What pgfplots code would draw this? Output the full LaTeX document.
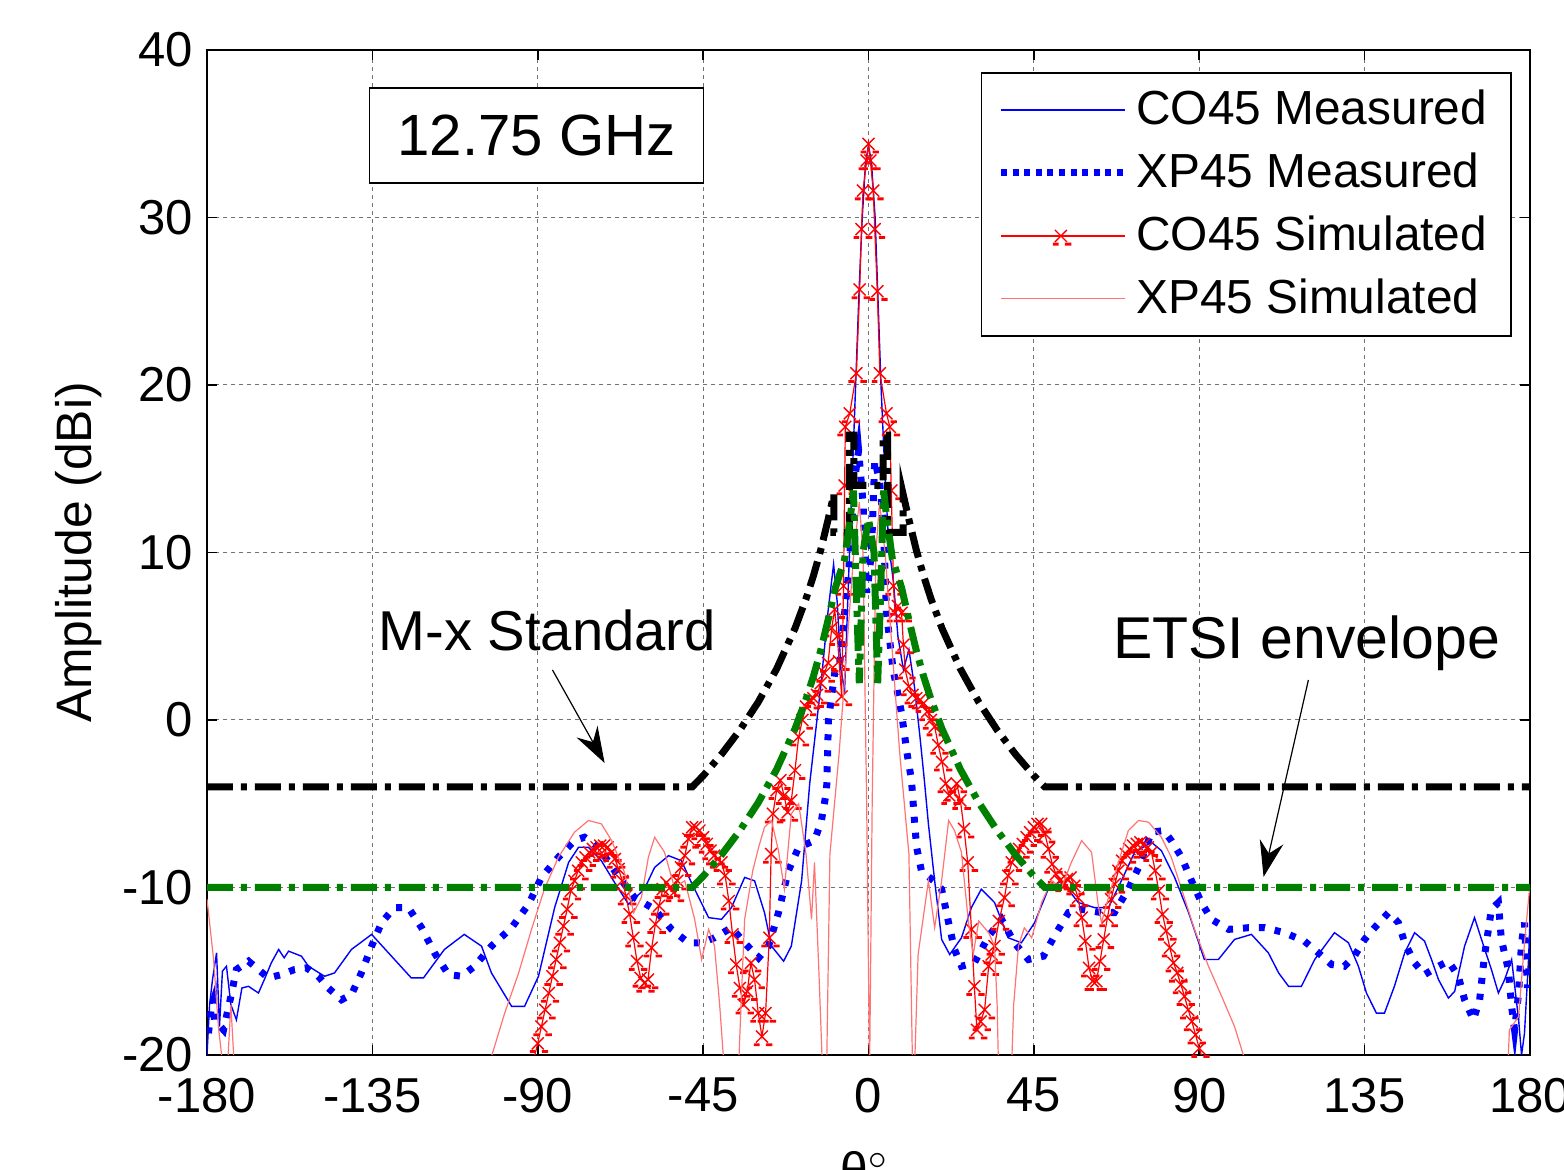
\documentclass[border=0pt]{standalone}
\usepackage{pgfplots}
\pgfplotsset{compat=1.18}
\usepackage{fontspec}
\setmainfont{Liberation Sans}
\usetikzlibrary{arrows.meta}
\pgfdeclareplotmark{xdash}{%
  \pgfpathmoveto{\pgfpoint{-\pgfplotmarksize}{-\pgfplotmarksize}}%
  \pgfpathlineto{\pgfpoint{\pgfplotmarksize}{\pgfplotmarksize}}%
  \pgfpathmoveto{\pgfpoint{-\pgfplotmarksize}{\pgfplotmarksize}}%
  \pgfpathlineto{\pgfpoint{\pgfplotmarksize}{-\pgfplotmarksize}}%
  \pgfusepathqstroke
  \pgfpathrectanglecorners{\pgfpoint{-2.0bp}{-2.4bp}}{\pgfpoint{-0.6bp}{-1.7bp}}%
  \pgfpathrectanglecorners{\pgfpoint{1.0bp}{-2.4bp}}{\pgfpoint{2.6bp}{-1.7bp}}%
  \pgfusepathqfill
}
\begin{document}
\begin{tikzpicture}
\begin{axis}[
  name=ax,
  scale only axis,
  width=330.75bp, height=251.25bp,
  xmin=-180, xmax=180, ymin=-20, ymax=40,
  xtick={-180,-135,-90,-45,0,45,90,135,180},
  ytick={-20,-10,0,10,20,30,40},
  /pgf/number format/assume math mode=true,
  tick label style={font=\fontsize{12.3}{14}\selectfont},
  xticklabel style={yshift=-2.2bp},
  tick align=inside,
  major tick length=2.5bp,
  tick style={black, line width=0.4bp},
  axis line style={black, line width=0.5bp},
  grid=major,
  grid style={black!55, line width=0.25bp, dash pattern=on 1bp off 1bp},
  ylabel={Amplitude (dBi)},
  ylabel style={at={(rel axis cs:-0.097,0.5)}, anchor=center, font=\fontsize{12.5}{14}\selectfont},
  clip mode=individual,
  legend style={at={(rel axis cs:0.9864,0.978)}, anchor=north east, draw=black, line width=0.4bp,
    inner xsep=4bp, inner ysep=2.2bp, row sep=1.6bp, font=\fontsize{12}{14}\selectfont,
    cells={anchor=west}},
]
% CO45 Measured
\addplot[blue, line width=0.35bp, mark=none,
  legend image code/.code={\draw[blue, line width=0.35bp] (0bp,0bp) -- (31bp,0bp);}] coordinates {
(-180,-20) (-179.3,-17) (-178.5,-15.5) (-177.4,-13.9) (-176.6,-18.3) (-175.8,-15) (-174.7,-14.7) (-173.5,-17)
(-172,-17.9) (-170.5,-16) (-168.7,-15.9) (-166,-16.3) (-164.4,-15.5) (-162.5,-14.5) (-160.5,-13.7) (-159,-14.2)
(-157.8,-13.8) (-154.3,-14.1) (-152.4,-14.7) (-148,-15.3) (-145.3,-15.1) (-140.7,-13.7) (-135.2,-12.8)
(-129.8,-14.1) (-124.4,-15.4) (-121.1,-15.4) (-115.4,-13.7) (-110,-12.8) (-105.3,-13.5) (-102.6,-15.1)
(-97.1,-17.1) (-93.6,-17.1) (-89.8,-15.3) (-85.4,-11.2) (-81.6,-8.5) (-78.9,-7.6) (-76.2,-7.6) (-72.7,-8.4)
(-69.1,-9.7) (-65.3,-11.0) (-61,-10.1) (-58.2,-8.8) (-54.4,-8.1) (-50.9,-8.4) (-48.2,-9.7) (-43.5,-11.8)
(-40,-11.9) (-37.3,-11.2) (-33.7,-9.4) (-31,-9.6) (-28.3,-11.5) (-26.4,-13.5) (-23.1,-14.4) (-21,-13.5)
(-18.2,-9.6) (-16,-3.8) (-13,2) (-11,6.5) (-9.5,9.3) (-8.5,7) (-7.5,3) (-6.5,1.8) (-5.5,8) (-4.5,14)
(-3.5,20) (-2.5,26) (-1.7,30) (-0.8,33.3) (0,34.3) (0.8,33.3) (1.8,30) (3.4,20) (4.5,14.5) (5.5,10.5)
(6.8,8.2) (8,5) (9.5,3) (11,4.2) (12.5,2) (14,-1) (15.2,-3.6) (16.3,-6.2) (18,-9.6) (19.9,-13.1) (22.1,-14.0)
(25.3,-13.0) (28,-11.2) (30.7,-10.1) (34.3,-10.9) (38,-13.0) (41.6,-13.3) (45.2,-12.1) (48.9,-10.1)
(52.5,-9.6) (57.1,-10.9) (61.5,-11.2) (65.3,-11.2) (68.8,-9.6) (72.4,-7.9) (77,-7.3) (79.7,-7.8) (83.3,-9.4)
(87.1,-11.5) (91.4,-14.3) (95.2,-14.3) (99.6,-13.1) (104.2,-12.8) (108.8,-13.9) (111.6,-15.1) (114.3,-15.9)
(117.8,-15.9) (121.4,-14.3) (126.8,-12.7) (130.6,-13.3) (133.3,-14.7) (135.5,-16.3) (138.2,-17.5)
(140.4,-17.5) (143.1,-15.9) (145.9,-13.9) (148.6,-12.7) (151.3,-13.2) (153.2,-14.3) (155.1,-15.5)
(157.8,-16.6) (159.5,-16.2) (162.2,-13.5) (164.9,-11.8) (166.8,-13.1) (169.5,-14.9) (171.4,-16.3)
(173.1,-15.5) (175,-14.3) (176.9,-17.9) (177.7,-20) (178.5,-18.7) (179.6,-14.3) (180,-12)
};
\addlegendentry{CO45 Measured}
% XP45 Measured
\addplot[blue, line width=1.75bp, dash pattern=on 1.5bp off 2.5bp, mark=none,
  legend image code/.code={\draw[blue, line width=1.75bp, dash pattern=on 1.5bp off 1.4bp] (0bp,0bp) -- (31bp,0bp);}] coordinates {
(-179.6,-18.7) (-178.8,-17.1) (-178.2,-16.7) (-178,-17.9) (-175.5,-18.5) (-173.3,-16.3) (-172,-14.9)
(-168.7,-14.4) (-166,-14.9) (-163.3,-15.4) (-159.7,-15.2) (-156.2,-14.9) (-152.9,-14.8) (-149.7,-15.3)
(-147,-16.0) (-143.4,-16.7) (-140.7,-16.4) (-138,-15.1) (-135.2,-13.5) (-132.5,-12.1) (-129,-11.2)
(-125.2,-11.2) (-121.6,-12.4) (-118.1,-13.9) (-114.3,-15.2) (-110.7,-15.3) (-107.2,-14.7) (-102.6,-13.5)
(-97.1,-12.4) (-92.5,-11.0) (-89,-9.4) (-84.4,-8.2) (-80,-7.2) (-77.3,-7.0) (-73.5,-7.6) (-69.1,-9.0)
(-63.7,-10.6) (-58.2,-11.3) (-53.6,-12.5) (-49,-13.3) (-45.4,-13.3) (-41.9,-13.0) (-37.3,-12.4)
(-33.7,-13.3) (-29.9,-14.2) (-27.2,-13.5) (-24.5,-11.5) (-21.8,-9.0) (-19,-7.6) (-14.7,-7.2) (-12.8,-6.0)
(-11.4,-4.2) (-10.9,0) (-9.2,2.8) (-8,3) (-6.5,6.4) (-5.4,8.8) (-3.8,14.3) (-2.7,16.1) (-1.5,13)
(-0.5,7.6) (0,8.4) (0.8,10) (1.7,15.5) (3,14.3) (4,11.9) (4.9,6.4) (6.7,3.0) (9,0.4) (10.5,-2) (11.7,-3.6)
(12.5,-6.0) (13.1,-7.6) (14.4,-9.0) (17.7,-9.6) (19.9,-10.1) (21.8,-12.1) (23.4,-13.7) (25.3,-14.7)
(28.8,-14.5) (32.7,-12.9) (36.2,-11.9) (39.7,-13.3) (43.5,-14.3) (47.6,-14.1) (50.6,-12.9) (54.4,-11.5)
(58,-11.3) (63.4,-11.5) (66.9,-11.5) (70.7,-10.1) (73.5,-8.8) (77,-6.7) (80.3,-6.6) (82.4,-7.2) (85.2,-8.2)
(87.9,-9.6) (90.6,-10.9) (93.3,-11.9) (98,-12.5) (103.4,-12.4) (107.8,-12.4) (113.2,-12.7) (118.6,-13.2)
(122.4,-13.9) (126,-14.6) (129.5,-14.7) (132.2,-14.1) (135,-13.1) (137.7,-12.4) (141.5,-11.5) (144.2,-12.1)
(145.9,-13.3) (148.6,-14.5) (151.3,-15.2) (155.1,-14.7) (157.8,-14.4) (160.5,-15.3) (162.2,-16.7)
(164.6,-17.9) (166.3,-16.7) (167.6,-14.1) (169.5,-11.3) (171.4,-10.9) (172.2,-13.1) (174.1,-14.9)
(175,-17.1) (175.8,-18.5) (176.9,-16.3) (177.7,-13.3) (178.5,-12.1) (179.3,-16) (180,-14)
};
\addlegendentry{XP45 Measured}
% CO45 Simulated
\addplot[red, line width=0.3bp, mark=xdash, mark size=1.5bp, mark options={solid, line width=0.35bp, draw=red, fill=red},
  legend image code/.code={\draw[red, line width=0.3bp] (0bp,0bp) -- (31bp,0bp);
     \draw[red, fill=red, line width=0.35bp] plot[mark=xdash, mark size=1.5bp] coordinates {(15bp,0bp)};}] coordinates {
(-90.9,-20.1) (-90,-19.3) (-89,-18.3) (-88,-17.3) (-87,-16.3) (-86,-15.3) (-85,-14.3) (-84,-13.3) (-83,-12.3)
(-82,-11.3) (-81,-10.2) (-80,-9.6) (-79,-9.0) (-78,-8.5) (-77,-8.2) (-76,-7.9) (-75,-7.7) (-74,-7.6)
(-73,-7.5) (-72,-7.5) (-71,-7.6) (-70,-7.9) (-69,-8.3) (-68,-8.9) (-67,-9.6) (-66,-10.5) (-65,-11.6)
(-64,-13.0) (-63,-14.4) (-62,-15.4) (-61,-15.7) (-60,-15.5) (-59,-13.6) (-58,-12.2) (-57,-11.1) (-56,-10.1)
(-55,-9.7) (-54,-10.0) (-53,-10.3) (-52,-9.6) (-51,-8.8) (-50,-8.1) (-49,-7.1) (-48,-6.4) (-47,-6.4)
(-46,-6.6) (-45,-7.0) (-44,-7.4) (-43,-7.8) (-42,-8.1) (-41,-8.3) (-40,-8.5) (-39,-9.3) (-38,-10.8)
(-37,-12.8) (-36,-14.6) (-35,-16.0) (-34,-17.0) (-33,-16.2) (-32,-14.5) (-31,-15.5) (-30,-17.5) (-29,-18.9)
(-28,-17.5) (-27,-13) (-26.5,-8) (-26,-5.6) (-25,-4.2) (-24,-3.6) (-23,-4.5) (-22,-5.5) (-21,-4.8) (-20,-3)
(-19,-1) (-18,0) (-17,0.8) (-16,1.2) (-15,1.3) (-14,1.5) (-13,2.2) (-12,2.8) (-11,3.4) (-10,5.5) (-9.2,6.6)
(-8.5,5) (-8,3.5) (-7.3,1.4) (-6.8,8) (-6.5,14) (-6.3,17.5) (-5.1,18.3) (-3.3,20.7) (-2.4,25.7) (-1.9,29.3)
(-1.5,31.6) (-0.5,33.4) (0,34.4) (0.5,33.4) (1.3,31.6) (1.7,29.3) (2.4,25.6) (3.1,20.7) (4.9,18.3) (5.8,17.5)
(6.2,13.7) (6.8,8) (7.2,6.4) (8,6.8) (9,6.4) (9.5,4.5) (10,3) (11,2) (12,1.5) (13,1.3) (14,1.2) (15,1.0)
(16,0.5) (17,0) (18,-0.4) (19,-1.5) (20,-2.5) (21,-3.8) (22,-4.5) (23,-4.3) (24,-3.8) (25,-4.8) (26,-6.5)
(27,-8.5) (28,-12.5) (28.8,-15.9) (29.5,-18.5) (30.5,-18) (31.6,-17.3) (32.7,-14.7) (33.5,-14) (34.3,-13.5)
(35.5,-12) (37,-10.6) (38,-9.3) (39,-8.5) (40,-8.0) (41,-7.7) (42,-7.4) (43,-7.0) (44,-6.7) (45,-6.4)
(46,-6.2) (47,-6.2) (48,-6.8) (49,-7.7) (50,-8.6) (51,-9.2) (52,-9.6) (53,-9.7) (54,-9.5) (55,-9.4)
(56,-9.9) (57,-10.6) (58,-11.8) (59,-13.2) (60,-14.8) (61,-15.6) (62,-15.6) (63,-14.4) (64,-13.1)
(65,-11.8) (66,-10.7) (67,-9.8) (68,-9.0) (69,-8.4) (70,-8.0) (71,-7.7) (72,-7.5) (73,-7.4) (74,-7.3)
(75,-7.4) (76,-7.6) (77,-7.9) (78,-9.0) (79,-10.2) (80,-11.6) (81,-12.6) (82,-13.6) (83,-14.5) (84,-15.1)
(85,-15.8) (86,-16.5) (87,-17.3) (88,-18.0) (89,-18.8) (90,-19.6) (91,-20.3)
};
\addlegendentry{CO45 Simulated}
% XP45 Simulated
\addplot[red!55, line width=0.3bp, mark=none,
  legend image code/.code={\draw[red!55, line width=0.3bp] (0bp,0bp) -- (31bp,0bp);}] coordinates {
(-180,-10.7) (-178.2,-14.3) (-176.9,-18.3) (-175.5,-21) (-174.5,-21) (-173.5,-17) (-172.5,-21) (-104,-21)
(-102.6,-20.1) (-99,-17.5) (-95.2,-15.1) (-91.7,-12.5) (-88.2,-10.1) (-84.4,-8.2) (-80,-6.7) (-76.2,-6.0)
(-72.7,-6.2) (-69.9,-7.2) (-66.4,-9.1) (-63.9,-11.5) (-61.8,-10.6) (-59.9,-8.2) (-58.2,-7.0) (-55.5,-7.9)
(-52.8,-10.0) (-50,-9.6) (-47.3,-11.9) (-45.4,-14.3) (-43.5,-12.5) (-41.9,-13.5) (-40.5,-17) (-39.2,-21)
(-35.4,-21) (-34.5,-16) (-33.7,-11.9) (-31.5,-9) (-29.9,-7.6) (-28.3,-6.4) (-26.4,-6.0) (-24.5,-7.8)
(-22.9,-10.1) (-22,-8) (-21,-5.6) (-19,-5) (-17,-8) (-15.5,-11.9) (-14.7,-8.5) (-13.5,-15) (-12.5,-21)
(-11.4,-21) (-10.5,-8) (-8,-2) (-6,4) (-4,10) (-2.5,13) (-1.5,10) (-0.5,-5) (0.3,-21) (1,-5) (2,10) (3,13)
(4.5,10) (6.5,4) (8.5,-2) (11,-8) (12,-21) (12.5,-21) (13.5,-14) (16.3,-9.6) (18,-12.4) (19.9,-9.6)
(21.8,-6.0) (23.4,-6.6) (25.3,-7.9) (27.2,-12.1) (28.5,-14) (30,-12) (32.7,-12.7) (34.3,-13.5) (35,-17)
(35.4,-21) (38.9,-21) (39.5,-17) (40.8,-13.5) (42.4,-12.4) (44.4,-13) (47.1,-10.9) (49.8,-9.6) (52.5,-10)
(55.2,-8.5) (58,-7.2) (60.7,-7.9) (62.6,-11.2) (63.4,-12.1) (65.3,-10.6) (68,-8.5) (70.7,-6.6) (73.5,-6.0)
(76.2,-6.1) (79.7,-7.0) (82.4,-8.2) (85.2,-10.1) (88.7,-12.5) (92.5,-14.7) (96.1,-16.5) (99.6,-18.3)
(102,-20) (103,-21) (173.5,-21) (174.1,-20) (174.4,-18.5) (176.9,-17.7) (178.5,-13.3) (179.9,-10)
};
\addlegendentry{XP45 Simulated}
% M-x standard (black)
\addplot[black, line width=1.75bp, dash pattern=on 6.5bp off 2bp on 1.5bp off 2bp, forget plot] coordinates {
(-180,-4) (-48,-4) (-45,-3.33) (-40,-2.05) (-35,-0.6) (-30,1.07) (-25,3.05) (-20,5.47) (-17,7.24) (-15,8.6)
(-13,10.15) (-11,11.96) (-9.4,13.5) (-9.4,11.2) (-5.2,11.2) (-5.2,17) (-4,17) (-4,14) (4,14) (4,17) (5.2,17)
(5.2,11.2) (9.4,11.2) (9.4,13.5) (11,11.96) (13,10.15) (15,8.6) (17,7.24) (20,5.47) (25,3.05) (30,1.07)
(35,-0.6) (40,-2.05) (45,-3.33) (48,-4) (180,-4)
};
% ETSI envelope (green)
\addplot[green!50!black, line width=1.75bp, dash pattern=on 6.5bp off 2bp on 1.5bp off 2bp, forget plot] coordinates {
(-180,-10) (-48,-10) (-45,-9.33) (-40,-8.05) (-35,-6.6) (-30,-4.93) (-25,-2.95) (-20,-0.53) (-17,1.24)
(-15,2.6) (-13,4.15) (-11,5.97) (-9,7.9) (-6.5,9.6) (-5,12) (-4.1,13.7) (-3.3,7.6) (-2.5,2.2) (-1.5,10)
(0,12) (1.5,10) (2.5,2.2) (3.3,7.6) (4.1,13.7) (5,12) (6.5,9.6) (9,7.9) (11,5.97) (13,4.15) (15,2.6)
(17,1.24) (20,-0.53) (25,-2.95) (30,-4.93) (35,-6.6) (40,-8.05) (45,-9.33) (48,-10) (180,-10)
};
\node[draw=black, line width=0.4bp, fill=white, minimum width=83.5bp, minimum height=23.75bp,
  font=\fontsize{14.6}{17}\selectfont, inner sep=0pt] at (axis cs:-90.3,34.9) {12.75 GHz};
\node[font=\fontsize{14.1}{17}\selectfont] at (axis cs:-87.4,5.37) {M-x Standard};
\draw[line width=0.3bp, -{Stealth[length=9bp, width=6bp, inset=3bp]}] (axis cs:-86,2.99) -- (axis cs:-71.8,-2.57);
\node[font=\fontsize{14.8}{17}\selectfont] at (axis cs:119.2,4.6) {ETSI envelope};
\draw[line width=0.3bp, -{Stealth[length=9bp, width=6bp, inset=3bp]}] (axis cs:119.7,2.39) -- (axis cs:107.5,-9.37);
\end{axis}
\node[font=\fontsize{12.5}{14}\selectfont, anchor=north] at ([shift={(-1bp,-20.5bp)}]ax.south) {θ$^{\circ}$};
\pgfresetboundingbox
\path[use as bounding box] ([shift={(-51.75bp,-28.75bp)}]ax.south west) rectangle ([shift={(8.5bp,12.5bp)}]ax.north east);
\end{tikzpicture}
\end{document}
